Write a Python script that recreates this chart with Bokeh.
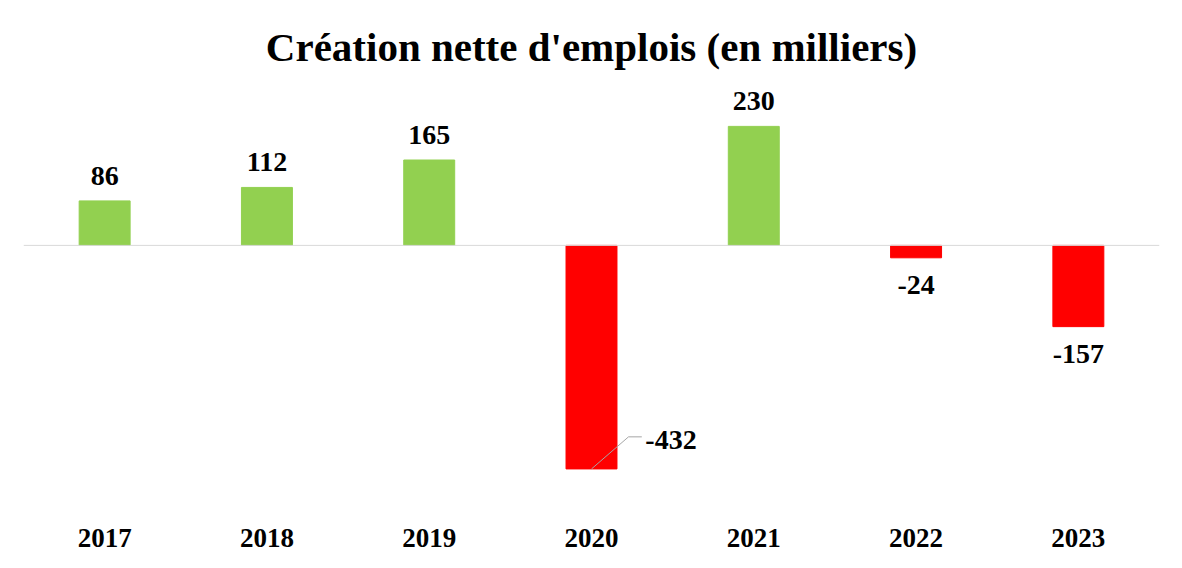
from bokeh.plotting import figure
from bokeh.models import ColumnDataSource, Span, FixedTicker
from bokeh.core.properties import value
from bokeh.embed import file_html
from bokeh.resources import INLINE

years = ["2017", "2018", "2019", "2020", "2021", "2022", "2023"]
jobs = [86, 112, 165, -432, 230, -24, -157]

GREEN = "#92D050"
RED = "#FF0000"
FONT = "Liberation Serif"

xs = list(range(len(years)))
colors = [GREEN if v >= 0 else RED for v in jobs]
src = ColumnDataSource(dict(x=xs, top=jobs, color=colors))

p = figure(width=1166, height=552, output_backend="svg", toolbar_location=None,
           x_range=(-0.5, len(years) - 0.5), y_range=(-522, 309),
           frame_width=1136, frame_height=430,
           min_border_left=23, min_border_right=7, min_border_top=85, min_border_bottom=37)
p.title.text = "Création nette d'emplois (en milliers)"
p.title.align = "center"
p.title.vertical_align = "top"
p.title.text_line_height = 0.7
p.title.text_font = FONT
p.title.text_font_size = "41px"
p.title.text_font_style = "bold"
p.title.text_color = "black"
p.title.standoff = 28

p.vbar(x="x", top="top", bottom=0, width=0.314, color="color", source=src)

zero = Span(location=0, dimension="width", line_color="#D9D9D9", line_width=1)
p.add_layout(zero)

# value labels
lx, ly, lt, lyo = [], [], [], []
imin = jobs.index(min(jobs))
for i, v in enumerate(jobs):
    if i == imin:
        continue
    lx.append(i)
    ly.append(v)
    lt.append(str(v))
    lyo.append(-25 if v >= 0 else 27)
p.text(x=lx, y=ly, text=lt, y_offset=lyo, text_align="center", text_baseline="middle",
       text_font=value(FONT), text_font_size="28px", text_font_style="bold", text_color="black")

# leader line + label for the minimum
vmin = jobs[imin]
p.line(x=[imin, imin + 0.228, imin + 0.31], y=[vmin, vmin + 62, vmin + 62],
       line_color="#A6A6A6", line_width=1)
p.text(x=[imin + 0.49], y=[vmin + 55], text=[str(vmin)], text_align="center", text_baseline="middle",
       text_font=value(FONT), text_font_size="28px", text_font_style="bold", text_color="black")

p.yaxis.visible = False
p.xgrid.visible = False
p.ygrid.visible = False
p.outline_line_color = None
p.xaxis.axis_line_color = None
p.xaxis.major_tick_line_color = None
p.xaxis.minor_tick_line_color = None
p.xaxis.major_tick_out = 0
p.xaxis.major_tick_in = 0
p.xaxis.ticker = FixedTicker(ticks=xs)
p.xaxis.major_label_overrides = {i: y for i, y in enumerate(years)}
p.xaxis.major_label_text_font = FONT
p.xaxis.major_label_text_font_size = "27px"
p.xaxis.major_label_text_font_style = "bold"
p.xaxis.major_label_text_color = "black"
p.xaxis.major_label_standoff = 13

open("out.html", "w").write(file_html(p, INLINE))
